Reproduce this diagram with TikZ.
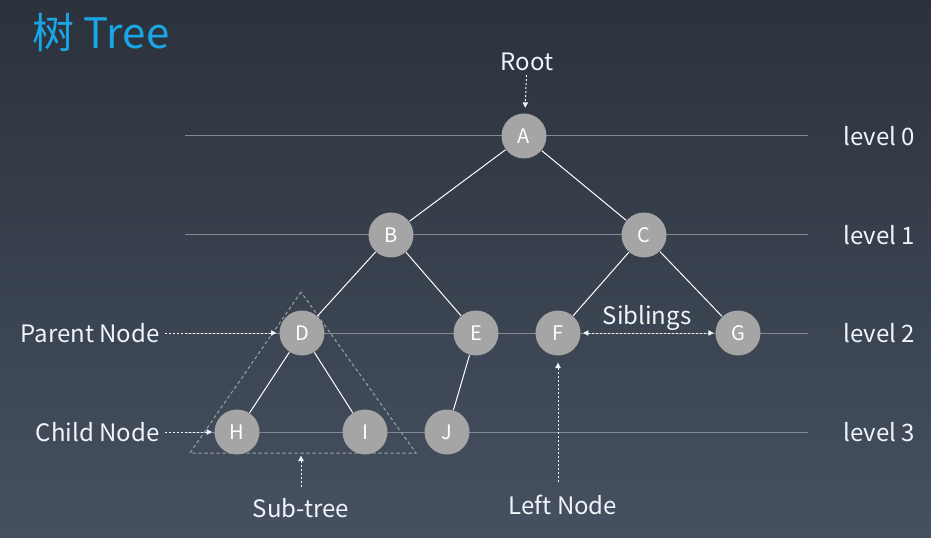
\documentclass[tikz,border=0pt]{standalone}
\usepackage{fontspec}
\setmainfont{Noto Sans CJK SC}
\usetikzlibrary{arrows.meta}
\definecolor{bgtop}{HTML}{2B323C}
\definecolor{bgbot}{HTML}{465060}
\definecolor{nodegray}{HTML}{A5A5A5}
\definecolor{levelgray}{HTML}{828A94}
\definecolor{titleblue}{HTML}{1AA6E4}
\definecolor{tagwhite}{HTML}{EEF6FB}
\tikzset{every picture/.style={line width=0.75pt}}
\tikzset{
  treenode/.style={circle, fill=nodegray, minimum size=33.75pt, inner sep=0pt, text=white, font=\fontsize{15}{17}\selectfont},
  tag/.style={inner sep=0.75pt, text=tagwhite, font=\fontsize{18}{20}\selectfont},
  levelline/.style={draw=levelgray, line width=0.75pt},
  branch/.style={draw=white, line width=0.75pt},
  pointer/.style={draw=tagwhite, dash pattern=on 1.5pt off 1.5pt, -{Triangle[length=4pt,width=4pt]}},
  subtree/.style={draw=levelgray!80!white, dash pattern=on 2.5pt off 2pt},
}

\begin{document}
\begin{tikzpicture}[x=0.75pt,y=0.75pt,yscale=-1,xscale=1]
% background
\shade [top color=bgtop, bottom color=bgbot] (0,0) rectangle (931,538);
\useasboundingbox (0,0) rectangle (931,538);

% Title
\node [anchor=west, inner sep=0pt, text=titleblue, font=\fontsize{31.5}{34}\selectfont] (title) at (32,33) {树 Tree};

% Level lines
\coordinate (l0a) at (185,136); \coordinate (l0b) at (808,136);
\coordinate (l1a) at (185,235); \coordinate (l1b) at (808,235);
\coordinate (l2a) at (185,333); \coordinate (l2b) at (808,333);
\coordinate (l3a) at (185,432); \coordinate (l3b) at (808,432);
\draw [levelline] (l0a) -- (l0b);
\draw [levelline] (l1a) -- (l1b);
\draw [levelline] (l2a) -- (l2b);
\draw [levelline] (l3a) -- (l3b);

% Level labels
\node [tag, anchor=west] (lv0) at (842,136) {level 0};
\node [tag, anchor=west] (lv1) at (842,235) {level 1};
\node [tag, anchor=west] (lv2) at (842,333) {level 2};
\node [tag, anchor=west] (lv3) at (842,432) {level 3};

% Sub-tree triangle
\coordinate (st1) at (301,292);
\coordinate (st2) at (190,453);
\coordinate (st3) at (416,453);
\coordinate (stb) at (301,453);
\draw [subtree] (st1) -- (st2) -- (st3) -- cycle;

% Tree nodes
\node [treenode] (A) at (524,136) {A};
\node [treenode] (B) at (391,235) {B};
\node [treenode] (C) at (644,235) {C};
\node [treenode] (D) at (302,333) {D};
\node [treenode] (E) at (476,333) {E};
\node [treenode] (F) at (558,333) {F};
\node [treenode] (G) at (738,333) {G};
\node [treenode] (H) at (237,432) {H};
\node [treenode] (I) at (365,432) {I};
\node [treenode] (J) at (447,432) {J};

% Branches
\draw [branch] (A) -- (B);
\draw [branch] (A) -- (C);
\draw [branch] (B) -- (D);
\draw [branch] (B) -- (E);
\draw [branch] (C) -- (F);
\draw [branch] (C) -- (G);
\draw [branch] (D) -- (H);
\draw [branch] (D) -- (I);
\draw [branch] (E) -- (J);

% Text Node
\node [tag] (root) at (527,62) {Root};
\node [tag, anchor=east] (parent) at (161,333) {Parent Node};
\node [tag, anchor=east] (child) at (161,432) {Child Node};
\node [tag] (sub) at (301,508) {Sub-tree};
\node [tag] (sib) at (647,318) {Siblings};
\node [tag] (leftnd) at (563,505) {Left Node};
\coordinate (lnfoot) at (558,482);

% Pointers
\draw [pointer, shorten <=2pt, shorten >=4pt] (root) -- (A);
\draw [pointer, shorten <=3pt, shorten >=2pt] (parent) -- (D);
\draw [pointer, shorten <=3pt, shorten >=1.5pt] (child) -- (H);
\draw [pointer, shorten <=7pt, shorten >=2pt] (sub) -- (stb);
\draw [pointer, {Triangle[length=4pt,width=4pt]}-{Triangle[length=4pt,width=4pt]}, shorten <=1.5pt, shorten >=1pt] (F) -- (G);
\draw [pointer, shorten >=5pt] (lnfoot) -- (F);

\end{tikzpicture}
\end{document}
